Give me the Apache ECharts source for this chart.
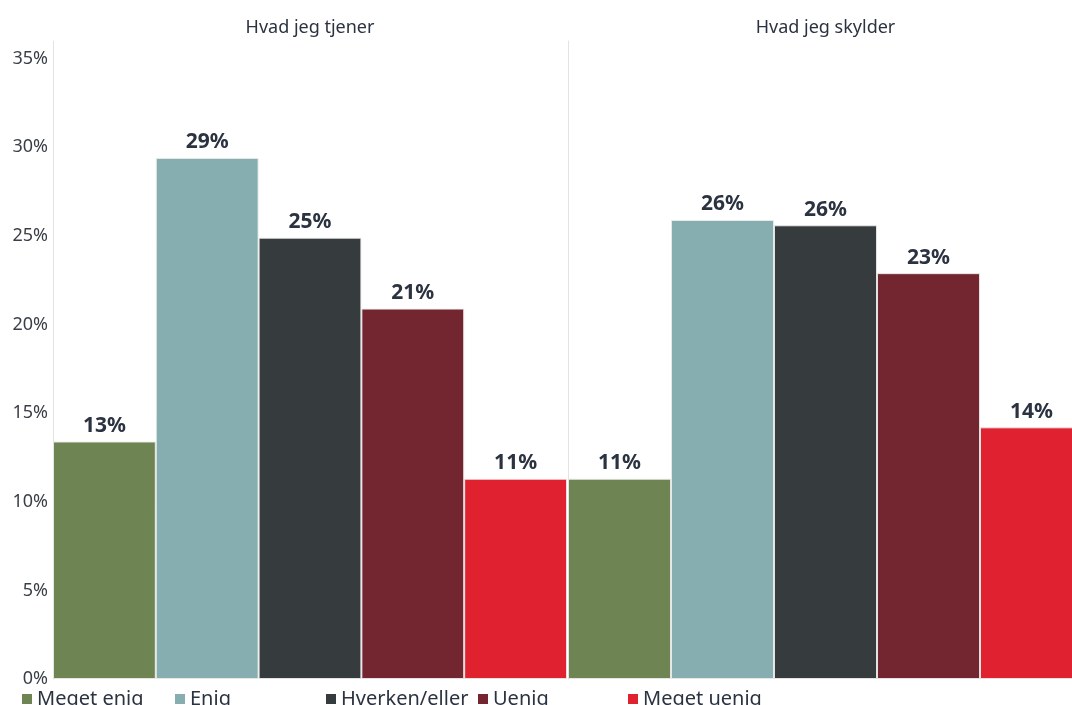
<!DOCTYPE html>
<html>
<head>
<meta charset="utf-8">
<script src="https://cdn.jsdelivr.net/npm/echarts@6/dist/echarts.min.js"></script>
<style>
  html, body { margin: 0; padding: 0; background: #ffffff; }
  #chart { width: 1072px; height: 705px; }
</style>
</head>
<body>
<div id="chart"></div>
<script>
// Answer categories (legend order) and their colours
const answers = ['Meget enig', 'Enig', 'Hverken/eller', 'Uenig', 'Meget uenig'];
const answerColors = ['#6E8453', '#86AEB1', '#363C3D', '#732630', '#E0212F'];

// Panel titles
const panels = ['Hvad jeg tjener', 'Hvad jeg skylder'];

// Share of respondents (%) per answer, one array per panel
const tjenerValues = [13.4, 29.4, 24.9, 20.9, 11.3];
const skylderValues = [11.3, 25.9, 25.6, 22.9, 14.2];
const panelValues = [tjenerValues, skylderValues];

// Value axis ticks
const yTicks = [0, 5, 10, 15, 20, 25, 30, 35];

const FONT = "'Noto Sans', Lato, sans-serif";
const TEXT = '#2B3240';

const chart = echarts.init(document.getElementById('chart'));

// Two side-by-side panels; the right one runs past the page edge
const grids = [
  { left: 53, top: 41, width: 514, bottom: 26, outerBoundsMode: 'none', containLabel: false },
  { left: 568, top: 41, width: 515, bottom: 26, outerBoundsMode: 'none', containLabel: false }
];

const xAxes = panels.map((p, i) => ({
  type: 'category',
  gridIndex: i,
  data: [p],
  position: 'top',
  axisLine: { show: false },
  axisTick: { show: false },
  axisLabel: { color: TEXT, fontFamily: FONT, fontSize: 18, margin: 4 }
}));

const yAxes = panels.map((p, i) => ({
  type: 'value',
  gridIndex: i,
  min: 0,
  max: 36,
  interval: 5,
  splitLine: { show: false },
  axisTick: { show: false },
  axisLine: { show: true, lineStyle: { color: '#E3E3E3', width: 1 } },
  axisLabel: {
    show: i === 0,
    color: '#3A3F47',
    fontFamily: FONT,
    fontSize: 18,
    margin: 5,
    formatter: v => (yTicks.indexOf(v) >= 0 ? v + '%' : '')
  }
}));

const series = [];
panels.forEach((p, gi) => {
  answers.forEach((a, ai) => {
    series.push({
      type: 'bar',
      name: a,
      xAxisIndex: gi,
      yAxisIndex: gi,
      data: [panelValues[gi][ai]],
      barGap: '0%',
      barCategoryGap: '0%',
      itemStyle: {
        color: answerColors[ai],
        borderColor: 'rgba(235,235,235,0.9)',
        borderWidth: 1
      },
      label: {
        show: true,
        position: 'top',
        distance: 5,
        color: TEXT,
        fontFamily: FONT,
        fontWeight: 'bold',
        fontSize: 21,
        formatter: d => Math.round(d.value) + '%'
      }
    });
  });
});

// One legend block per answer, evenly spaced along the bottom edge
const legendLefts = [22, 175, 326, 478, 628];
const legends = answers.map((a, i) => ({
  data: [a],
  left: legendLefts[i],
  top: 689,
  padding: 0,
  icon: 'rect',
  itemWidth: 10,
  itemHeight: 10,
  itemGap: 0,
  itemStyle: { borderWidth: 0 },
  textStyle: { color: TEXT, fontFamily: FONT, fontSize: 20 }
}));

chart.setOption({
  animation: false,
  color: answerColors,
  grid: grids,
  xAxis: xAxes,
  yAxis: yAxes,
  legend: legends,
  series: series
});
</script>
</body>
</html>
